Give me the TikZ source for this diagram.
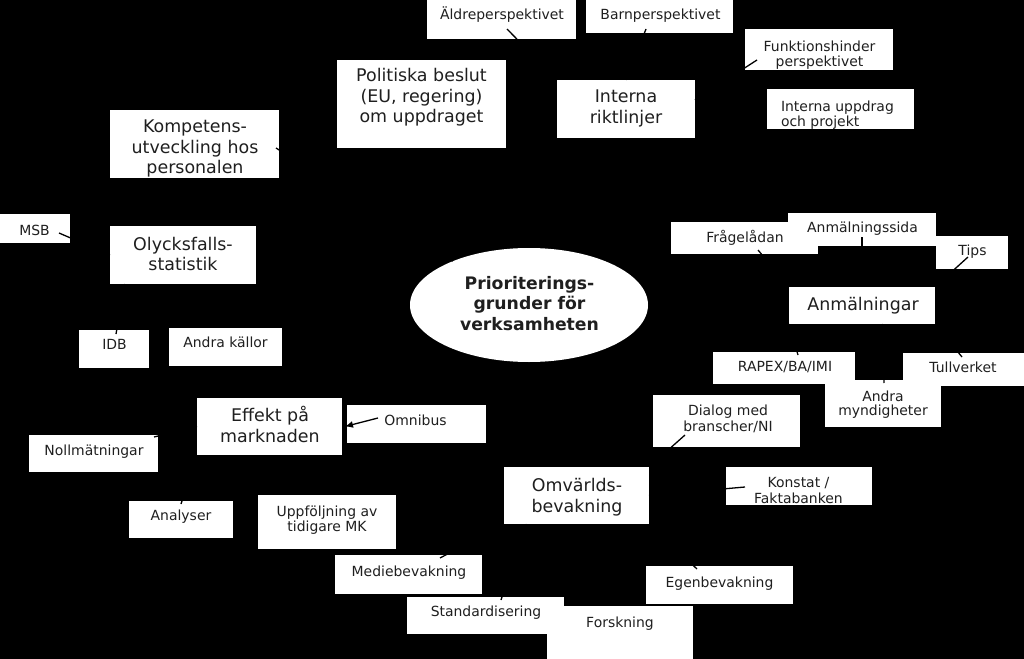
\documentclass[tikz,border=0pt]{standalone}
\usepackage{fontspec}
\setmainfont{DejaVu Sans}
\usetikzlibrary{shapes.geometric,arrows.meta}
\newcommand{\mlc}[1]{\vtop{\halign{\hfil##\hfil\cr#1\crcr}}}
\newcommand{\mll}[1]{\vtop{\halign{##\hfil\cr#1\crcr}}}
\tikzset{
  box/.style={rectangle, fill=white, draw=none, inner sep=0pt, outer sep=0pt},
  txt/.style={inner sep=0pt, outer sep=0pt, anchor=base, text=black!88},
  sm/.style={txt, font=\fontsize{14}{16}\selectfont},
  bg/.style={txt, font=\fontsize{17.5}{20.5}\selectfont},
  conn/.style={draw=black, line width=1.3bp},
}
\begin{document}
\begin{tikzpicture}[x=1bp,y=-1bp]
\useasboundingbox (0,0) rectangle (1024,659);
\fill[black] (0,0) rectangle (1024,659);

% boxes
\node[box, minimum width=149bp, minimum height=39bp] (aldre) at (501.5,19.5) {};
\node[box, minimum width=147bp, minimum height=33bp] (barn) at (659.5,16.5) {};
\node[box, minimum width=148bp, minimum height=41bp] (funk) at (819,49.5) {};
\node[box, minimum width=147bp, minimum height=40bp] (uppdrag) at (840.5,109) {};
\node[box, minimum width=169bp, minimum height=88bp] (politiska) at (421.5,104) {};
\node[box, minimum width=138bp, minimum height=58bp] (interna) at (626,109) {};
\node[box, minimum width=169bp, minimum height=68bp] (kompetens) at (194.5,144) {};
\node[box, minimum width=70bp, minimum height=29bp] (msb) at (35,228.5) {};
\node[box, minimum width=146bp, minimum height=58bp] (olycks) at (183,255) {};
\node[ellipse, fill=white, inner sep=0pt, outer sep=0pt, minimum width=238bp, minimum height=114bp] (prio) at (529,305) {};
\node[box, minimum width=147bp, minimum height=32bp] (frag) at (744.5,238) {};
\node[box, minimum width=148bp, minimum height=33bp] (anmsida) at (862,229.5) {};
\node[box, minimum width=72bp, minimum height=33bp] (tips) at (972,252.5) {};
\node[box, minimum width=146bp, minimum height=37bp] (anm) at (862,305.5) {};
\node[box, minimum width=142bp, minimum height=32bp] (rapex) at (784,368) {};
\node[box, minimum width=121bp, minimum height=33bp] (tull) at (963.5,369.5) {};
\node[box, minimum width=116bp, minimum height=47bp] (andra) at (883,403.5) {};
\node[box, minimum width=70bp, minimum height=38bp] (idb) at (114,349) {};
\node[box, minimum width=113bp, minimum height=38bp] (kallor) at (225.5,347) {};
\node[box, minimum width=145bp, minimum height=57bp] (effekt) at (269.5,426.5) {};
\node[box, minimum width=139bp, minimum height=38bp] (omnibus) at (416.5,424) {};
\node[box, minimum width=129bp, minimum height=37bp] (noll) at (93.5,453.5) {};
\node[box, minimum width=104bp, minimum height=37bp] (analyser) at (181,519.5) {};
\node[box, minimum width=138bp, minimum height=54bp] (uppf) at (327,522) {};
\node[box, minimum width=147bp, minimum height=52bp] (dialog) at (726.5,421) {};
\node[box, minimum width=145bp, minimum height=57bp] (omv) at (576.5,495.5) {};
\node[box, minimum width=146bp, minimum height=38bp] (konstat) at (799,486) {};
\node[box, minimum width=147bp, minimum height=39bp] (medie) at (408.5,574.5) {};
\node[box, minimum width=157bp, minimum height=37bp] (standard) at (485.5,615.5) {};
\node[box, minimum width=146bp, minimum height=53bp] (forsk) at (620,632.5) {};
\node[box, minimum width=147bp, minimum height=38bp] (egen) at (719.5,585) {};

% texts
\node[sm] (t-aldre) at (502,20) {Äldreperspektivet};
\node[sm] (t-barn) at (660.5,19.5) {Barnperspektivet};
\node[sm, font=\fontsize{14}{15.5}\selectfont] (t-funk) at (819.5,51.5) {\mlc{Funktionshinder\cr perspektivet}};
\node[sm, font=\fontsize{14}{14.5}\selectfont, anchor=base west] (t-uppdrag) at (781,111.7) {\mll{Interna uppdrag\cr och projekt}};
\node[bg] (t-politiska) at (421.5,82) {\mlc{Politiska beslut\cr (EU, regering)\cr om uppdraget}};
\node[bg] (t-interna) at (626,103) {\mlc{Interna\cr riktlinjer}};
\node[bg] (t-kompetens) at (195,133) {\mlc{Kompetens-\cr utveckling hos\cr personalen}};
\node[sm] (t-msb) at (34.5,235) {MSB};
\node[bg] (t-olycks) at (183,250) {\mlc{Olycksfalls-\cr statistik}};
\node[txt, font=\fontsize{17.3}{21}\selectfont\bfseries] (t-prio) at (529.5,289) {\mlc{Prioriterings-\cr grunder för\cr verksamheten}};
\node[sm] (t-frag) at (745,242.7) {Frågelådan};
\node[sm] (t-anmsida) at (862.5,232) {Anmälningssida};
\node[sm] (t-tips) at (972.5,255.7) {Tips};
\node[bg] (t-anm) at (863,310) {Anmälningar};
\node[sm] (t-rapex) at (785,371.7) {RAPEX/BA/IMI};
\node[sm] (t-tull) at (963,372.7) {Tullverket};
\node[sm, font=\fontsize{14}{14.5}\selectfont] (t-andra) at (883,401.5) {\mlc{Andra\cr myndigheter}};
\node[sm] (t-idb) at (114.5,349.3) {IDB};
\node[sm] (t-kallor) at (225.5,347.3) {Andra källor};
\node[bg] (t-effekt) at (270,421.7) {\mlc{Effekt på\cr marknaden}};
\node[sm] (t-omnibus) at (415.5,425) {Omnibus};
\node[sm] (t-noll) at (94,455) {Nollmätningar};
\node[sm] (t-analyser) at (181,520) {Analyser};
\node[sm, font=\fontsize{14}{15}\selectfont] (t-uppf) at (327,516.5) {\mlc{Uppföljning av\cr tidigare MK}};
\node[sm, font=\fontsize{14}{16.5}\selectfont] (t-dialog) at (728,415) {\mlc{Dialog med\cr branscher/NI}};
\node[bg] (t-omv) at (577,491.7) {\mlc{Omvärlds-\cr bevakning}};
\node[sm, font=\fontsize{14}{16.3}\selectfont] (t-konstat) at (798.5,487.7) {\mlc{Konstat /\cr Faktabanken}};
\node[sm] (t-medie) at (409,576.7) {Mediebevakning};
\node[sm] (t-standard) at (486,616.7) {Standardisering};
\node[sm] (t-forsk) at (620,627.3) {Forskning};
\node[sm] (t-egen) at (719.5,587.3) {Egenbevakning};

% connectors
\draw[conn] ([xshift=5.5bp,yshift=10bp]aldre.south) -- (interna.north west);
\draw[conn] ([xshift=-13.5bp,yshift=4bp]barn.south) -- (interna.north);
\draw[conn] ([xshift=12bp,yshift=10bp]funk.south west) -- ([yshift=9bp]interna.east);
\draw[conn] ([xshift=-3bp,yshift=-4bp]kompetens.east) -- (prio.150);
\draw[conn] ([xshift=-11bp,yshift=-4.5bp]msb.east) -- (olycks.west);
\draw[conn] ([xshift=2bp,yshift=-4bp]idb.north) -- ([xshift=15bp]olycks.south west);
\draw[conn] ([xshift=13.5bp,yshift=4bp]frag.south) -- (anm.north west);
\draw[conn] ([yshift=9bp]anmsida.south) -- (anm.north);
\draw[conn] ([xshift=-4bp,yshift=12bp]tips.south) -- (anm.north east);
\draw[conn] ([xshift=14bp,yshift=-3bp]rapex.north) -- (anm.south west);
\draw[conn] ([xshift=-1.5bp,yshift=-4bp]tull.north) -- (anm.south east);
\draw[conn] ([xshift=1bp,yshift=-3bp]andra.north) -- ([xshift=20bp]anm.south);
\draw[conn] ([xshift=-41.5bp,yshift=12bp]dialog.south) -- (omv.north east);
\draw[conn] ([xshift=19bp,yshift=-1bp]konstat.west) -- (omv.east);
\draw[conn, -{Latex[length=8bp,width=7bp]}] ([xshift=31bp,yshift=6bp]omnibus.west) -- ([xshift=3bp]effekt.east);
\draw[conn] ([xshift=-4bp,yshift=-2bp]noll.north east) -- (effekt.west);
\draw[conn] ([yshift=-3bp]analyser.north) -- (effekt.south west);
\draw[conn] ([xshift=15.5bp,yshift=-3bp]standard.north) -- ([xshift=-50bp]omv.south);
\draw[conn] ([xshift=31.5bp,yshift=-3bp]medie.north) -- (omv.south west);
\draw[conn] ([xshift=-22.5bp,yshift=-3bp]egen.north) -- (omv.south east);
\end{tikzpicture}
\end{document}
